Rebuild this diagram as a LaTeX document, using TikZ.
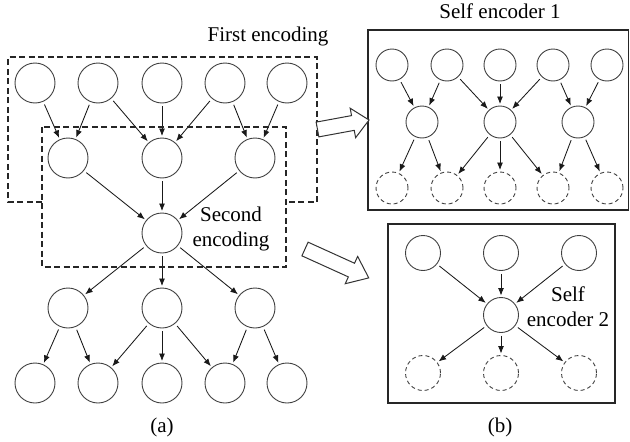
\documentclass[tikz,border=0pt]{standalone}
\usepackage{fontspec}
\setmainfont{Liberation Serif}
\usetikzlibrary{arrows.meta}

\begin{document}
\begin{tikzpicture}[x=1pt,y=-1pt,
  neuron/.style={circle, draw=black!75, line width=0.9pt, minimum size=40pt, inner sep=0pt},
  sneuron/.style={neuron, minimum size=32pt},
  mneuron/.style={neuron, minimum size=35pt},
  ghost/.style={dash pattern=on 4pt off 3pt},
  link/.style={-{Latex[length=7.5pt,width=6pt]}, line width=0.85pt, black!90, shorten >=1.5pt, shorten <=3pt},
  dbox/.style={line width=1.3pt, dash pattern=on 6pt off 3.5pt, black!85},
  frame/.style={line width=1.4pt, black!85},
  hollow/.style={line width=1pt, black!80, fill=white},
  lbl/.style={font=\fontsize{21}{25}\selectfont, align=center, anchor=base, inner sep=0pt}
]
\useasboundingbox (0,0) rectangle (630,442);

% ---------------- (a) stacked network ----------------
\foreach \i/\x in {1/35,2/98,3/162,4/225,5/287} {
  \node[neuron] (t\i) at (\x,83) {};
  \node[neuron] (b\i) at (\x,383) {};
}
\foreach \i/\x in {1/68,2/162,3/255} {
  \node[neuron] (m\i) at (\x,158) {};
  \node[neuron] (d\i) at (\x,308) {};
}
\node[neuron] (c) at (162,233) {};

\draw[link] (t1) -- (m1);
\draw[link] (t2) -- (m1);
\draw[link] (t2) -- (m2);
\draw[link] (t3) -- (m2);
\draw[link] (t4) -- (m2);
\draw[link] (t4) -- (m3);
\draw[link] (t5) -- (m3);
\foreach \i in {1,2,3} {
  \draw[link] (m\i) -- (c);
  \draw[link] (c) -- (d\i);
}
\draw[link] (d1) -- (b1);
\draw[link] (d1) -- (b2);
\draw[link] (d2) -- (b2);
\draw[link] (d2) -- (b3);
\draw[link] (d2) -- (b4);
\draw[link] (d3) -- (b4);
\draw[link] (d3) -- (b5);

% encoding regions
\draw[dbox] (42,202) -- (8,202) -- (8,57) -- (317,57) -- (317,202) -- (286,202);
\draw[dbox] (42,127) rectangle (286,267);

\node[lbl] (fe) at (268,41.7) {First encoding};
\node[lbl] (se) at (231,246.7) {Second\\encoding};
\node[lbl] (la) at (162,432) {(a)};

% ---------------- (b) self encoders ----------------
\draw[frame] (368,30) rectangle (628.5,210);
\node[lbl] (s1) at (500,18.3) {Self encoder 1};

\foreach \i/\x in {1/392,2/447,3/500,4/553,5/607} {
  \node[sneuron] (p\i) at (\x,65) {};
  \node[sneuron, ghost] (r\i) at (\x,188) {};
}
\foreach \i/\x in {1/422,2/500,3/578} {
  \node[sneuron] (q\i) at (\x,122) {};
}
\draw[link] (p1) -- (q1);
\draw[link] (p2) -- (q1);
\draw[link] (p2) -- (q2);
\draw[link] (p3) -- (q2);
\draw[link] (p4) -- (q2);
\draw[link] (p4) -- (q3);
\draw[link] (p5) -- (q3);
\draw[link] (q1) -- (r1);
\draw[link] (q1) -- (r2);
\draw[link] (q2) -- (r2);
\draw[link] (q2) -- (r3);
\draw[link] (q2) -- (r4);
\draw[link] (q3) -- (r4);
\draw[link] (q3) -- (r5);

\draw[frame] (388,224) rectangle (615,403);
\foreach \i/\x in {1/423,2/501,3/579} {
  \node[mneuron] (u\i) at (\x,253) {};
  \node[mneuron, ghost] (w\i) at (\x,373) {};
}
\node[mneuron] (h) at (501,315) {};
\foreach \i in {1,2,3} {
  \draw[link] (u\i) -- (h);
  \draw[link] (h) -- (w\i);
}
\node[lbl] (s2) at (568,326.7) {Self\\encoder 2};
\node[lbl] (lb) at (500,432) {(b)};

% hollow block arrows
\draw[hollow, shift={(317.5,129.5)}, rotate=10.45]
  (0,-7.5) -- (36,-7.5) -- (36,-15) -- (52.4,0) -- (36,15) -- (36,7.5) -- (0,7.5) -- cycle;
\draw[hollow, shift={(305,249)}, rotate=-24.4]
  (0,-7.5) -- (51,-7.5) -- (51,-15) -- (70,0) -- (51,15) -- (51,7.5) -- (0,7.5) -- cycle;
\end{tikzpicture}
\end{document}
